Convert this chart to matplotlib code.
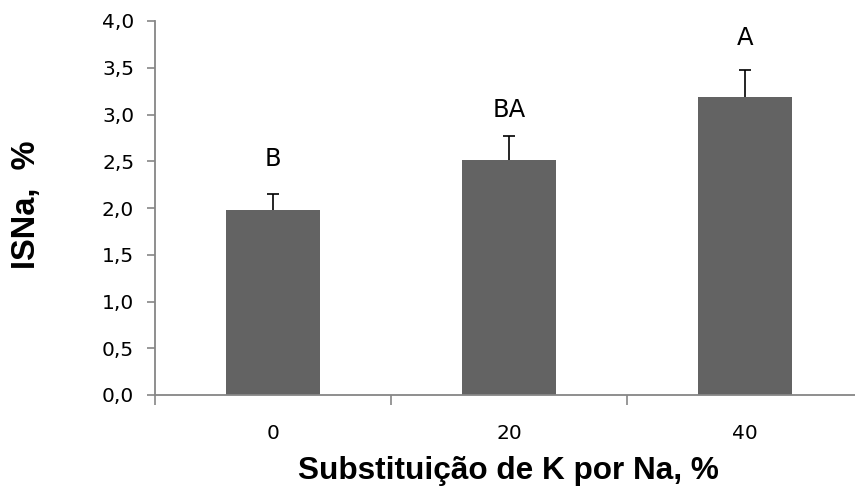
import matplotlib
matplotlib.use("Agg")
import matplotlib.pyplot as plt
import numpy as np

# data
categories = ["0", "20", "40"]
isna = [1.975, 2.513, 3.184]
err_up = [0.172, 0.257, 0.296]
letters = ["B", "BA", "A"]
letter_y = [2.45, 2.976, 3.743]  # baseline of the significance letters
yticks = [0.0, 0.5, 1.0, 1.5, 2.0, 2.5, 3.0, 3.5, 4.0]

W, H = 855, 492
fig = plt.figure(figsize=(W / 100, H / 100), dpi=100)
# axes spans 155..863 px horizontally (right end runs past the image edge)
ax = fig.add_axes([155 / W, (H - 395) / H, (863 - 155) / W, (395 - 21) / H])

x = np.arange(len(categories))
ax.bar(x, isna, width=0.4, color="#636363", zorder=2)
eb = ax.errorbar(x, isna, yerr=[np.zeros(len(isna)), err_up], fmt="none",
                 ecolor="black", elinewidth=1.2, capsize=4.5, capthick=1.2, zorder=3)
eb[1][0].set_visible(False)  # only the upper cap

for xi, lab, ly in zip(x, letters, letter_y):
    ax.text(xi, ly, lab, ha="center", va="baseline", fontsize=17.5,
            family="DejaVu Sans", color="black")

ax.set_ylim(0, 4.0)
ax.set_xlim(-0.5, len(categories) - 0.5)
ax.set_yticks(yticks)
ax.set_yticklabels([f"{v:.1f}".replace(".", ",") for v in yticks],
                   family="DejaVu Sans", fontsize=14.5)

# category boundaries get the tick marks, labels sit at bar centres
ax.set_xticks(np.arange(-0.5, len(categories), 1.0))
ax.set_xticklabels([])
ax.set_xticks(x, minor=True)
ax.set_xticklabels(categories, minor=True, family="DejaVu Sans", fontsize=14.5)
ax.tick_params(axis="x", which="minor", length=0, pad=21)
ax.tick_params(axis="x", which="major", length=7, width=1.2, color="#868686",
               direction="out")
ax.tick_params(axis="y", length=6, width=1.2, color="#868686",
               direction="out", pad=9)

for s in ["top", "right"]:
    ax.spines[s].set_visible(False)
for s in ["left", "bottom"]:
    ax.spines[s].set_color("#868686")
    ax.spines[s].set_linewidth(1.3)

fig.text(27 / W, 1 - 205 / H, "ISNa,  %", rotation=90, ha="center", va="center",
         family="Liberation Sans", fontweight="bold", fontsize=23.5)
fig.text(508 / W, 1 - 479 / H, "Substituição de K por Na, %", ha="center",
         va="baseline", family="Liberation Sans", fontweight="bold", fontsize=22.7)

fig.savefig("out.png", dpi=100)
